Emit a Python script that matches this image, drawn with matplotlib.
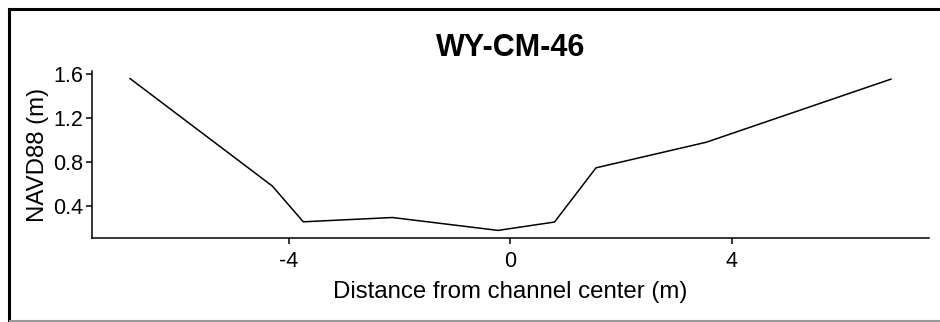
import matplotlib.pyplot as plt
from matplotlib.lines import Line2D

plt.rcParams['font.family'] = ['Liberation Sans', 'DejaVu Sans']

# cross-section profile
dist = [-6.87, -4.30, -3.74, -2.13, -0.22, 0.80, 1.55, 3.54, 6.88]
elev = [1.555, 0.58, 0.255, 0.294, 0.177, 0.253, 0.745, 0.977, 1.55]
xticks = [-4, 0, 4]
yticks = [0.4, 0.8, 1.2, 1.6]

fig = plt.figure(figsize=(9.4, 3.22), dpi=100)
ax = fig.add_axes([0.0979, 0.2609, 0.8904, 0.5186])

ax.plot(dist, elev, color="black", linewidth=1.1)

# ggplot-like 5% expansion
xr = max(dist) - min(dist)
yr = max(elev) - min(elev)
ax.set_xlim(min(dist) - 0.05 * xr, max(dist) + 0.05 * xr)
ax.set_ylim(min(elev) - 0.05 * yr, max(elev) + 0.05 * yr)

ax.set_xticks(xticks)
ax.set_xticklabels(["-4", "0", "4"])
ax.set_yticks(yticks)
ax.set_yticklabels(["0.4", "0.8", "1.2", "1.6"])

for s in ["top", "right"]:
    ax.spines[s].set_visible(False)
for s in ["left", "bottom"]:
    ax.spines[s].set_linewidth(1.1)
ax.tick_params(direction="out", length=4.5, width=1.1, labelsize=15.5, pad=2, colors="black")
ax.tick_params(axis="x", pad=5)

ax.set_xlabel("Distance from channel center (m)", fontsize=17.3, labelpad=6)
ax.set_ylabel("NAVD88 (m)", fontsize=17.3, labelpad=3)
ax.set_title("WY-CM-46", fontsize=22, fontweight="bold", pad=11)

# figure frame (cropped on the right and bottom)
fig.lines.append(Line2D([8.5 / 940, 1], [1 - 8.5 / 322] * 2, transform=fig.transFigure,
                        color="black", linewidth=2.2))
fig.lines.append(Line2D([8.5 / 940] * 2, [1 / 322, 1 - 8.5 / 322], transform=fig.transFigure,
                        color="black", linewidth=2.2))
fig.lines.append(Line2D([10 / 940, 1], [1 / 322] * 2, transform=fig.transFigure,
                        color="#999999", linewidth=1.5))

fig.savefig("out.png", dpi=100)
